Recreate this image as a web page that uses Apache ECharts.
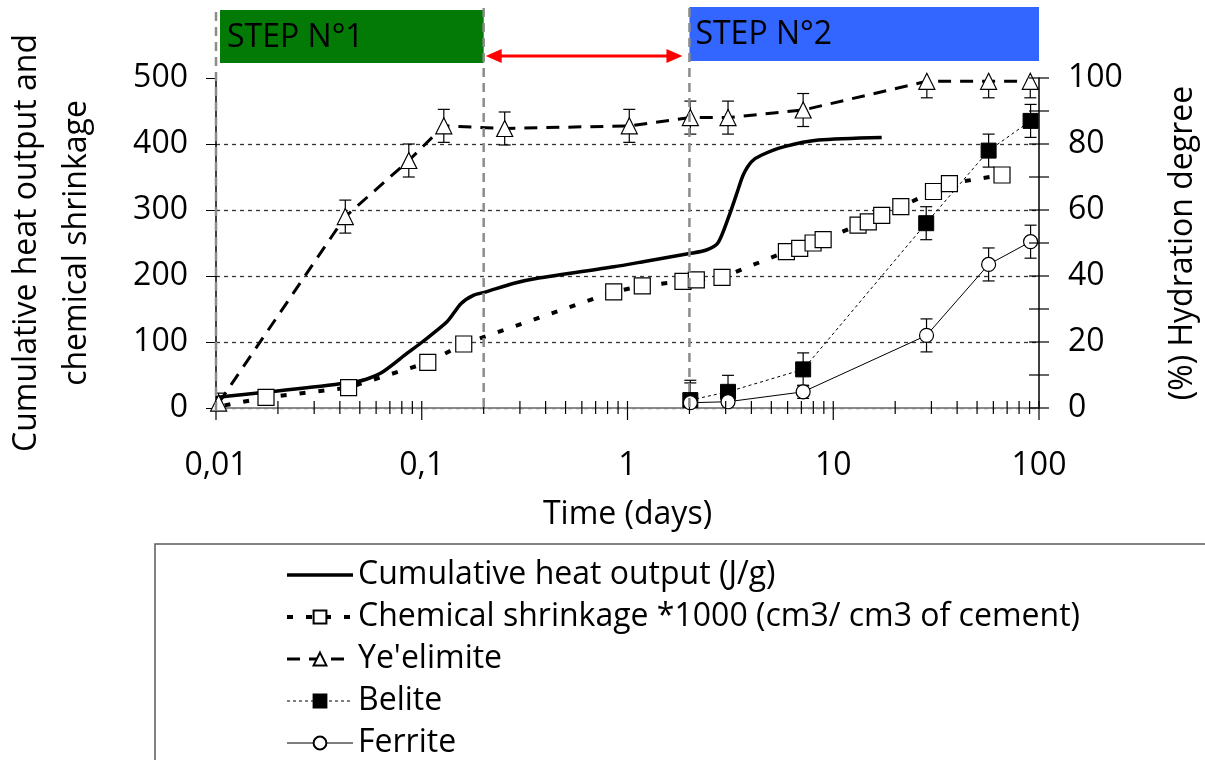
<!DOCTYPE html>
<html>
<head>
<meta charset="utf-8">
<script src="https://cdn.jsdelivr.net/npm/echarts@6/dist/echarts.min.js"></script>
<style>
  html, body { margin: 0; padding: 0; background: #fff; }
  #chart { width: 1205px; height: 760px; }
</style>
</head>
<body>
<div id="chart"></div>
<script>
// cumulative heat output (J/g) - left axis
var heatTime = [0.01, 0.0485, 0.063, 0.085, 0.1005, 0.133, 0.155, 0.179, 0.205, 0.281, 0.365, 0.86, 1.21, 2.0, 2.4, 2.75, 3.09, 3.38, 3.65, 4.0, 4.47, 5.79, 8.47, 17.2];
var heat     = [16, 40, 52.5, 83, 100, 131, 158, 171, 176, 189, 196.5, 214, 222, 234, 239, 250, 288, 323, 353, 373, 383, 396, 406, 410];

// chemical shrinkage *1000 - left axis (first point is the start of the trend line, no marker)
var csTime = [0.011, 0.0175, 0.0441, 0.107, 0.16, 0.857, 1.18, 1.86, 2.16, 2.88, 5.92, 6.87, 7.98, 8.93, 13.2, 14.8, 17.2, 21.3, 30.7, 36.7, 66.1];
var cs     = [4, 16, 31, 69, 97, 176, 185, 192, 194, 198, 237, 242, 250, 255, 277, 282, 292, 305, 328, 340, 353];

// hydration degree (%) - right axis
var yeTime = [0.0103, 0.0425, 0.0865, 0.128, 0.253, 1.02, 2.02, 3.08, 7.14, 28.5, 56.9, 90.7];
var ye     = [1.5, 58, 75, 85.5, 84.7, 85.5, 88, 88, 90.3, 99, 99, 99];
var yeErr  = [3, 5, 5, 5, 5, 5, 5, 5, 5, 5, 5, 5];

var beTime = [2.02, 3.08, 7.14, 28.3, 56.9, 91];
var be     = [2.4, 4.9, 11.7, 56, 78, 87];
var beErr  = [6, 5, 5, 5, 5, 5];

var feTime = [2.02, 3.08, 7.14, 28.4, 56.9, 91];
var fe     = [1.6, 1.9, 4.9, 22, 43.5, 50.4];
var feErr  = [6, 2, 2, 5, 5, 5];

var names = ['Cumulative heat output (J/g)', 'Chemical shrinkage *1000 (cm3/ cm3 of cement)', "Ye'elimite", 'Belite', 'Ferrite'];
var leftTicks = [0, 100, 200, 300, 400, 500];
var rightTicks = [0, 20, 40, 60, 80, 100];

// phase markers on the time axis
var step1 = [0.01046, 0.2];
var step2 = [2, 100];
var guideTimes = [0.01, 0.2, 2];

var FONT = 'Open Sans';
var FS = 32;

function pairs(xs, ys) {
    return xs.map(function (x, i) { return [x, ys[i]]; });
}
function triples(xs, ys, es) {
    return xs.map(function (x, i) { return [x, ys[i], es[i]]; });
}

// minor/major tick positions on the log axis
var logTicks = [];
[0.01, 0.1, 1, 10].forEach(function (d) {
    for (var k = 1; k < 10; k++) logTicks.push([d * k, k]);
});
logTicks.push([100, 1]);

var rightTickVals = [];
for (var v = 0; v <= 100; v += 10) rightTickVals.push([100, v]);

function errorBar(params, api) {
    var x = api.value(0), y = api.value(1), e = api.value(2);
    var top = api.coord([x, y + e]);
    var bot = api.coord([x, y - e]);
    var st = { stroke: '#000', lineWidth: 1.2 };
    return {
        type: 'group',
        children: [
            { type: 'line', shape: { x1: top[0], y1: top[1], x2: bot[0], y2: bot[1] }, style: st },
            { type: 'line', shape: { x1: top[0] - 6, y1: top[1], x2: top[0] + 6, y2: top[1] }, style: st },
            { type: 'line', shape: { x1: bot[0] - 6, y1: bot[1], x2: bot[0] + 6, y2: bot[1] }, style: st }
        ]
    };
}

var chart = echarts.init(document.getElementById('chart'));

var csData = pairs(csTime, cs).map(function (p, i) {
    return i === 0 ? { value: p, symbol: 'none' } : p;
});

var option = {
    backgroundColor: '#fff',
    animation: false,
    textStyle: { fontFamily: FONT, color: '#000' },
    grid: { left: 216, right: 166, top: 78, bottom: 352, containLabel: false, outerBoundsMode: 'none' },
    legend: {
        data: names,
        orient: 'vertical',
        left: 285,
        top: 559,
        padding: 0,
        itemWidth: 66,
        itemHeight: 16,
        itemGap: 10,
        lineStyle: { width: 'inherit' },
        textStyle: { fontFamily: FONT, fontSize: FS, color: '#000', lineHeight: 31 }
    },
    xAxis: [{
        type: 'log',
        logBase: 10,
        min: 0.01,
        max: 100,
        name: 'Time (days)',
        nameLocation: 'middle',
        nameGap: 91,
        nameTextStyle: { fontFamily: FONT, fontSize: FS, color: '#000' },
        axisLine: { lineStyle: { color: '#000', width: 1.5 } },
        axisTick: { show: false },
        axisLabel: {
            fontFamily: FONT, fontSize: FS, color: '#000', margin: 42,
            formatter: function (v) {
                var s = v >= 1 ? String(Math.round(v)) : String(+v.toPrecision(1));
                return s.replace('.', ',');
            }
        },
        splitLine: { show: false }
    }, {
        type: 'log',
        logBase: 10,
        min: 0.01,
        max: 100,
        position: 'top',
        axisLine: { lineStyle: { color: '#a6a6a6', width: 1.5 } },
        axisTick: { show: false },
        axisLabel: { show: false },
        splitLine: { show: false }
    }],
    yAxis: [{
        type: 'value',
        min: leftTicks[0],
        max: leftTicks[leftTicks.length - 1],
        interval: 100,
        name: 'Cumulative heat output and\nchemical shrinkage',
        nameLocation: 'middle',
        nameRotate: 90,
        nameGap: 114,
        nameTextStyle: { fontFamily: FONT, fontSize: FS, color: '#000', lineHeight: 50, align: 'center' },
        axisLine: { show: true, lineStyle: { color: '#000', width: 1.5 } },
        axisTick: { show: true, length: 10, lineStyle: { color: '#000' } },
        axisLabel: { fontFamily: FONT, fontSize: FS, color: '#000', margin: 28 },
        splitLine: {
            show: true,
            lineStyle: { color: ['#333', '#333', '#333', '#333', '#333', 'rgba(0,0,0,0)'], type: [4, 4], width: 1.3 }
        }
    }, {
        type: 'value',
        min: rightTicks[0],
        max: rightTicks[rightTicks.length - 1],
        interval: 20,
        position: 'right',
        name: '(%) Hydration degree',
        nameLocation: 'middle',
        nameRotate: 90,
        nameGap: 128,
        nameTextStyle: { fontFamily: FONT, fontSize: FS, color: '#000' },
        axisLine: { show: true, lineStyle: { color: '#000', width: 1.5 } },
        axisTick: { show: false },
        axisLabel: { fontFamily: FONT, fontSize: FS, color: '#000', margin: 29 },
        splitLine: { show: false }
    }],
    series: [{
        name: names[0],
        type: 'line',
        data: pairs(heatTime, heat),
        smooth: 0.25,
        showSymbol: false,
        symbol: 'circle',
        lineStyle: { color: '#000', width: 3.5 },
        itemStyle: { color: 'rgba(0,0,0,0)', borderWidth: 0 },
        z: 3
    }, {
        name: names[1],
        type: 'line',
        data: csData,
        symbol: 'rect',
        symbolSize: 16,
        lineStyle: { color: '#000', width: 4, type: [6, 13] },
        itemStyle: { color: '#fff', borderColor: '#000', borderWidth: 1.2 },
        z: 4
    }, {
        name: names[2],
        type: 'line',
        data: pairs(yeTime, ye),
        yAxisIndex: 1,
        symbol: 'triangle',
        symbolSize: 16,
        lineStyle: { color: '#000', width: 3, type: [13, 9] },
        itemStyle: { color: '#fff', borderColor: '#000', borderWidth: 1.2 },
        z: 4
    }, {
        name: names[3],
        type: 'line',
        data: pairs(beTime, be),
        yAxisIndex: 1,
        symbol: 'rect',
        symbolSize: 15,
        lineStyle: { color: '#000', width: 1, type: [3, 3] },
        itemStyle: { color: '#000', borderColor: '#000', borderWidth: 1 },
        z: 4
    }, {
        name: names[4],
        type: 'line',
        data: pairs(feTime, fe),
        yAxisIndex: 1,
        symbol: 'circle',
        symbolSize: 14,
        lineStyle: { color: '#000', width: 1 },
        itemStyle: { color: '#fff', borderColor: '#000', borderWidth: 1.2 },
        z: 4
    }, {
        type: 'custom', yAxisIndex: 1, clip: true, z: 2,
        data: triples(yeTime, ye, yeErr), renderItem: errorBar
    }, {
        type: 'custom', yAxisIndex: 1, clip: true, z: 2,
        data: triples(beTime, be, beErr), renderItem: errorBar
    }, {
        type: 'custom', yAxisIndex: 1, clip: true, z: 2,
        data: triples(feTime, fe, feErr), renderItem: errorBar
    }, {
        // log axis ticks crossing the time axis
        type: 'custom', clip: false, z: 5, silent: true,
        data: logTicks.map(function (t) { return [t[0], 0, t[1]]; }),
        renderItem: function (params, api) {
            var p = api.coord([api.value(0), 0]);
            var major = api.value(2) === 1;
            return {
                type: 'line',
                shape: { x1: p[0], y1: p[1] - 7, x2: p[0], y2: p[1] + (major ? 12 : 6) },
                style: { stroke: '#000', lineWidth: 1.2 }
            };
        }
    }, {
        // right axis ticks crossing the axis line
        type: 'custom', yAxisIndex: 1, clip: false, z: 5, silent: true,
        data: rightTickVals,
        renderItem: function (params, api) {
            var p = api.coord([api.value(0), api.value(1)]);
            return {
                type: 'line',
                shape: { x1: p[0] - 10, y1: p[1], x2: p[0] + 10, y2: p[1] },
                style: { stroke: '#000', lineWidth: 1.2 }
            };
        }
    }]
};

chart.setOption(option);

// annotations above the plot, placed through the time axis
function px(t) { return chart.convertToPixel({ xAxisIndex: 0 }, t); }
var yBottom = chart.convertToPixel({ yAxisIndex: 0 }, 0);
var arrowY = 56;
var a1 = px(0.2) + 2, a2 = px(2) - 7;

var graphics = [{
    type: 'rect', z: 0,
    shape: { x: 155, y: 544, width: 1200, height: 400 },
    style: { fill: 'none', stroke: '#595959', lineWidth: 1.5 }
}, {
    type: 'rect', z: 10,
    shape: { x: px(step1[0]), y: 10, width: px(step1[1]) - px(step1[0]), height: 53 },
    style: { fill: '#037a05' }
}, {
    type: 'text', z: 11,
    style: { x: px(step1[0]) + 7, y: 38, text: 'STEP N°1', fill: '#000', font: FS + 'px ' + FONT, textVerticalAlign: 'middle' }
}, {
    type: 'rect', z: 10,
    shape: { x: px(step2[0]), y: 7, width: px(step2[1]) - px(step2[0]), height: 54 },
    style: { fill: '#3366ff' }
}, {
    type: 'text', z: 11,
    style: { x: px(step2[0]) + 6, y: 35, text: 'STEP N°2', fill: '#000', font: FS + 'px ' + FONT, textVerticalAlign: 'middle' }
}, {
    type: 'line', z: 10,
    shape: { x1: a1 + 12, y1: arrowY, x2: a2 - 12, y2: arrowY },
    style: { stroke: '#ff0000', lineWidth: 3 }
}, {
    type: 'polygon', z: 10,
    shape: { points: [[a1, arrowY], [a1 + 16, arrowY - 7], [a1 + 16, arrowY + 7]] },
    style: { fill: '#ff0000' }
}, {
    type: 'polygon', z: 10,
    shape: { points: [[a2, arrowY], [a2 - 16, arrowY - 7], [a2 - 16, arrowY + 7]] },
    style: { fill: '#ff0000' }
}];

guideTimes.forEach(function (t, i) {
    graphics.push({
        type: 'line', z: 12,
        shape: { x1: px(t), y1: i === 0 ? 12 : 8, x2: px(t), y2: yBottom + (i === 0 ? 4 : 0) },
        style: { stroke: '#8c8c8c', lineWidth: 2.5, lineDash: [9, 6] }
    });
});

chart.setOption({ graphic: graphics });
</script>
</body>
</html>
